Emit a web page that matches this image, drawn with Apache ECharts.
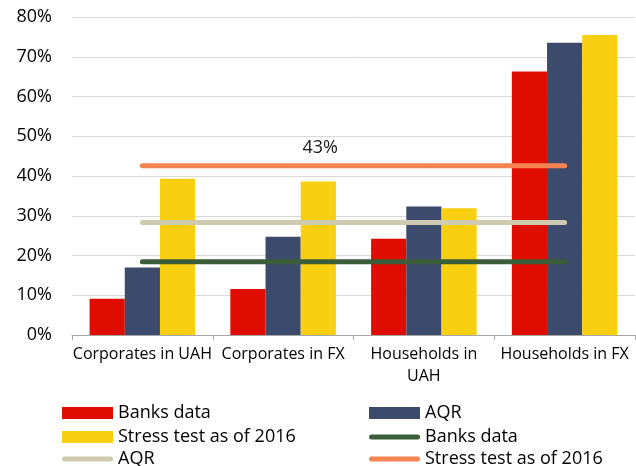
<!DOCTYPE html>
<html>
<head>
<meta charset="utf-8">
<script src="https://cdn.jsdelivr.net/npm/echarts@6/dist/echarts.min.js"></script>
<style>
  html, body { margin: 0; padding: 0; background: #ffffff; }
  #chart { width: 636px; height: 466px; }
</style>
</head>
<body>
<div id="chart"></div>
<script>
// Loan categories on the x axis
const categories = ['Corporates in UAH', 'Corporates in FX', 'Households in\nUAH', 'Households in FX'];

// Bar series, % of portfolio
const banksData = [9.1, 11.6, 24.2, 66.3];
const aqrData = [17.0, 24.7, 32.3, 73.5];
const stressData = [39.3, 38.6, 31.9, 75.5];

// Portfolio-wide levels drawn as horizontal lines, %
const banksLevel = [18.4, 18.4, 18.4, 18.4];
const aqrLevel = [28.3, 28.3, 28.3, 28.3];
const stressLevel = [42.6, 42.6, 42.6, 42.6];

// Index of the point that carries the value label on the stress-test line
const stressLabelIndex = 1;

const FONT = 'Open Sans';
const COLORS = {
  banks: '#df0c00',
  aqr: '#3c4a6b',
  stress: '#f9d011',
  banksLine: '#3a5e3a',
  aqrLine: '#cfcbb0',
  stressLine: '#f58452'
};

// Legend text for each series (line series share display names with bars)
const legendText = {
  'Banks data': 'Banks data',
  'AQR': 'AQR',
  'Stress test as of 2016': 'Stress test as of 2016',
  'Banks data line': 'Banks data',
  'AQR line': 'AQR',
  'Stress test as of 2016 line': 'Stress test as of 2016'
};

const lineIcon = 'path://M2.5,0 L48.5,0 A2.5,2.5 0 0 1 48.5,5 L2.5,5 A2.5,2.5 0 0 1 2.5,0 Z';

function legendItem(name, left, top, isLine) {
  return {
    data: [name],
    left: left,
    top: top,
    itemWidth: 51,
    itemHeight: isLine ? 5 : 12,
    icon: isLine ? lineIcon : 'rect',
    selectedMode: false,
    padding: 0,
    formatter: n => legendText[n],
    textStyle: { fontFamily: FONT, fontSize: 18, color: '#000000' }
  };
}

function barSeries(name, values, color) {
  return {
    name: name,
    type: 'bar',
    data: values,
    barGap: '0%',
    barCategoryGap: '25%',
    itemStyle: { color: color },
    emphasis: { disabled: true }
  };
}

function levelSeries(name, values, color, labelIndex) {
  return {
    name: name,
    type: 'line',
    data: values.map((v, i) => i === labelIndex ? {
      value: v,
      label: {
        show: true,
        position: 'top',
        offset: [37, -3],
        formatter: p => Math.round(p.value) + '%',
        fontFamily: FONT,
        fontSize: 18,
        color: '#1a1a1a'
      }
    } : v),
    color: color,
    // tiny symbols in the line colour stay hidden under the 5px stroke
    symbol: 'circle',
    symbolSize: 1,
    showSymbol: true,
    lineStyle: { color: color, width: 5, cap: 'round' },
    itemStyle: { color: color },
    emphasis: { disabled: true },
    z: 3
  };
}

const chart = echarts.init(document.getElementById('chart'), null, { renderer: 'canvas' });

chart.setOption({
  animation: false,
  backgroundColor: '#ffffff',
  grid: { left: 72, right: 1, top: 17, bottom: 131, containLabel: false },
  xAxis: {
    type: 'category',
    data: categories,
    boundaryGap: true,
    axisLine: { show: true, lineStyle: { color: '#a6a6a6', width: 1 } },
    axisTick: { show: true, length: 5, lineStyle: { color: '#a6a6a6' } },
    axisLabel: {
      interval: 0,
      margin: 8,
      fontFamily: FONT,
      fontSize: 16,
      lineHeight: 22,
      color: '#000000'
    }
  },
  yAxis: {
    type: 'value',
    min: 0,
    max: 80,
    interval: 10,
    axisLine: { show: false },
    axisTick: { show: false },
    splitLine: { show: true, lineStyle: { color: '#d9d9d9', width: 1 } },
    axisLabel: {
      formatter: '{value}%',
      margin: 20,
      fontFamily: FONT,
      fontSize: 18,
      color: '#000000'
    }
  },
  legend: [
    legendItem('Banks data', 62, 404, false),
    legendItem('AQR', 369, 404, false),
    legendItem('Stress test as of 2016', 62, 428, false),
    legendItem('Banks data line', 369, 428, true),
    legendItem('AQR line', 62, 450, true),
    legendItem('Stress test as of 2016 line', 369, 450, true)
  ],
  series: [
    barSeries('Banks data', banksData, COLORS.banks),
    barSeries('AQR', aqrData, COLORS.aqr),
    barSeries('Stress test as of 2016', stressData, COLORS.stress),
    levelSeries('Banks data line', banksLevel, COLORS.banksLine, -1),
    levelSeries('AQR line', aqrLevel, COLORS.aqrLine, -1),
    levelSeries('Stress test as of 2016 line', stressLevel, COLORS.stressLine, stressLabelIndex)
  ]
});
</script>
</body>
</html>
